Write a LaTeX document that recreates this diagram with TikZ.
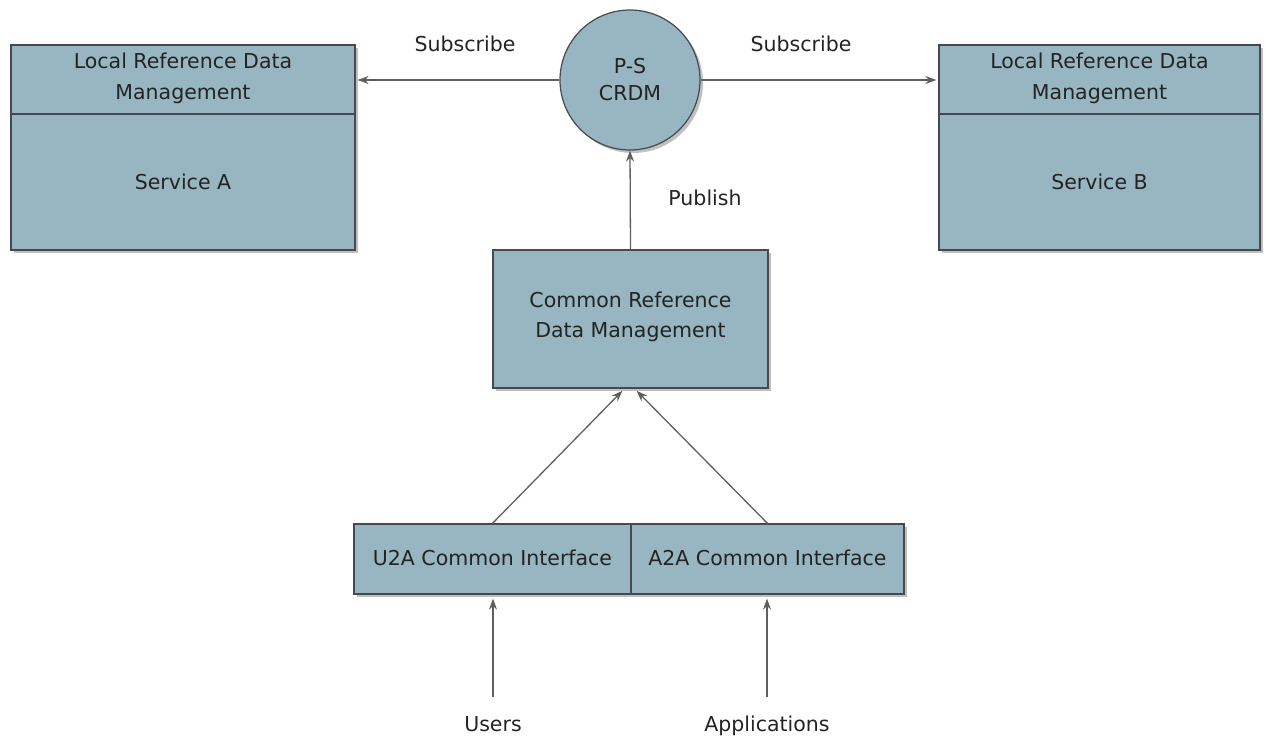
\documentclass[tikz,border=0pt]{standalone}
\usepackage{fontspec}
\setmainfont{DejaVu Sans}
\usetikzlibrary{arrows.meta,shadows}
\definecolor{boxfill}{RGB}{152,182,194}
\definecolor{boxline}{RGB}{70,74,78}
\definecolor{arrowc}{RGB}{95,95,95}
\definecolor{txt}{RGB}{35,35,35}
\tikzset{
  boxstyle/.style={draw=boxline, line width=1.2pt, fill=boxfill, rectangle, inner sep=0pt,
    drop shadow={shadow xshift=3pt, shadow yshift=-3pt, fill=black, opacity=0.25}},
  lbl/.style={font=\fontsize{20.5}{31}\selectfont, text=txt, align=center},
  conn/.style={draw=arrowc, line width=1.3pt, -{Stealth[length=11pt,width=8pt]}},
}
\begin{document}
\begin{tikzpicture}[x=1pt,y=-1pt]
\useasboundingbox (0,0) rectangle (1271,739);
% Left service box
\node[boxstyle, minimum width=344pt, minimum height=205pt] (lbox) at (183,147.5) {};
\draw[boxline, line width=1.2pt] (11,114) -- (355,114);
\node[lbl] (ltitle) at (183,78) {Local Reference Data\\Management};
\node[lbl] (lserv) at (183,182) {Service A};
% Right service box
\node[boxstyle, minimum width=321pt, minimum height=205pt] (rbox) at (1099.5,147.5) {};
\draw[boxline, line width=1.2pt] (939,114) -- (1260,114);
\node[lbl] (rtitle) at (1099.5,78) {Local Reference Data\\Management};
\node[lbl] (rserv) at (1099.5,182) {Service B};
% Circle
\node[boxstyle, circle, minimum size=140pt] (ps) at (630,80) {};
\node[lbl, font=\fontsize{20.5}{27}\selectfont] (pstext) at (630,80) {P-S\\CRDM};
% CRDM box
\node[boxstyle, minimum width=275pt, minimum height=138pt] (crdm) at (630.5,319) {};
\node[lbl, font=\fontsize{20.5}{30}\selectfont] (crdmtext) at (630.5,317) {Common Reference\\Data Management};
% Interfaces
\node[boxstyle, minimum width=277pt, minimum height=70pt] (u2a) at (492.5,559) {};
\node[lbl] (u2atext) at (492.5,558) {U2A Common Interface};
\node[boxstyle, minimum width=273pt, minimum height=70pt] (a2a) at (767.5,559) {};
\node[lbl] (a2atext) at (767.5,558) {A2A Common Interface};
% Free ends
\node[lbl, anchor=base] (users) at (493,731) {Users};
\node[lbl, anchor=base] (apps) at (767,731) {Applications};
\coordinate (ustart) at (493,697);
\coordinate (astart) at (767,697);
% Connectors
\draw[conn, shorten >=2pt] (ps.west) -- (ps.west -| lbox.east);
\draw[conn, shorten >=2pt] (ps.east) -- (ps.east -| rbox.west);
\draw[conn] (crdm.north) -- (ps.south);
\draw[conn, shorten >=3pt] (u2a.north) -- ([xshift=-6pt]crdm.south);
\draw[conn, shorten >=3pt] (a2a.north) -- ([xshift=4pt]crdm.south);
\draw[conn, shorten >=4pt] (ustart) -- (ustart |- u2a.south);
\draw[conn, shorten >=4pt] (astart) -- (astart |- a2a.south);
% Labels
\node[lbl, anchor=base] (sub1) at (465,51) {Subscribe};
\node[lbl, anchor=base] (sub2) at (801,51) {Subscribe};
\node[lbl, anchor=base] (pub) at (705,205) {Publish};
\end{tikzpicture}
\end{document}
